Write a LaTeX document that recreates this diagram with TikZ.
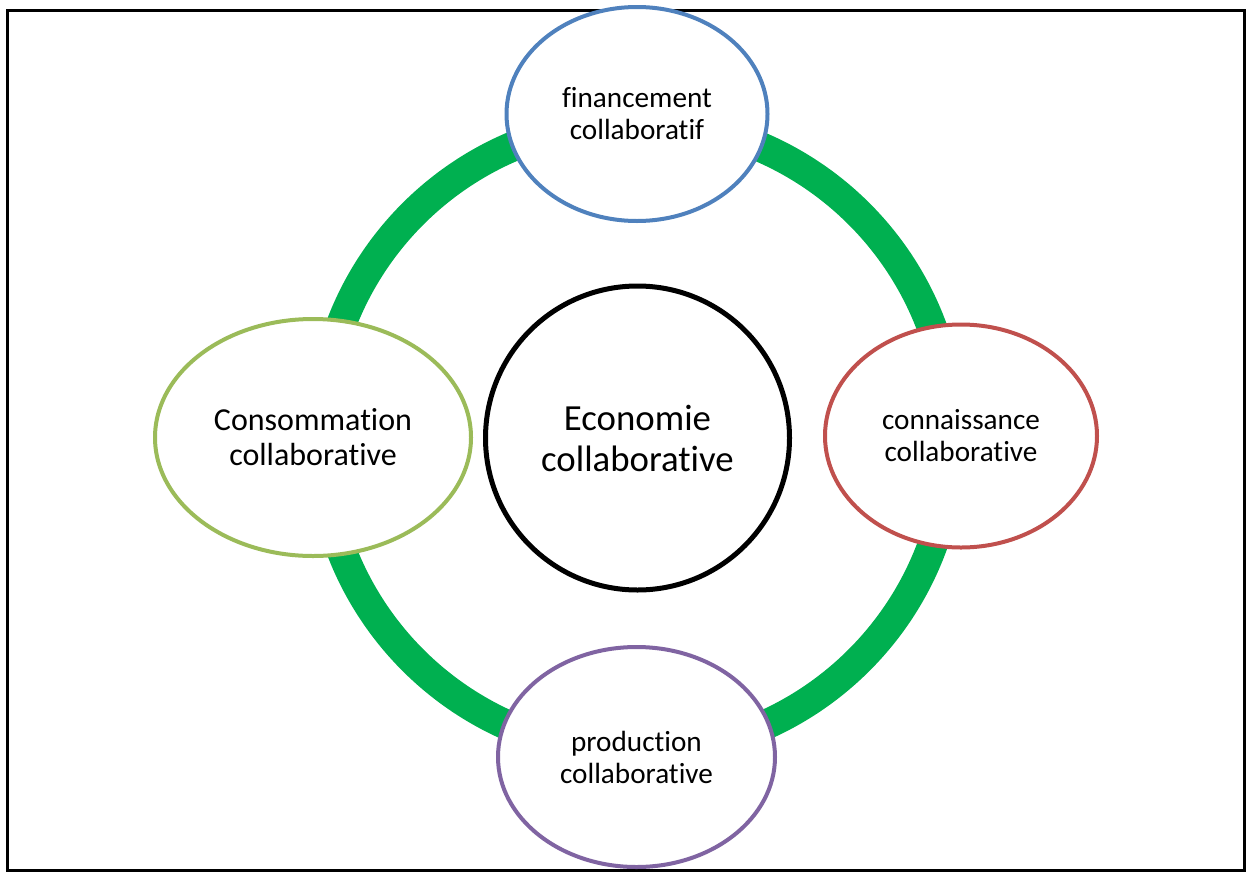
\documentclass[tikz,border=0pt]{standalone}
\usepackage{fontspec}
\setmainfont{Carlito}[Ligatures={NoCommon}]
\usetikzlibrary{shapes.geometric}
\definecolor{ringgreen}{HTML}{00B050}
\definecolor{finblue}{HTML}{4F81BD}
\definecolor{conred}{HTML}{C0504D}
\definecolor{consgreen}{HTML}{9BBB59}
\definecolor{prodpurple}{HTML}{8064A2}
\begin{document}
\begin{tikzpicture}[x=0.5pt,y=-0.5pt,
  bubble/.style={ellipse, draw, fill=white, line width=2pt, inner sep=0pt,
    align=center, text=black},
  smalltext/.style={font=\fontsize{14.6pt}{16pt}\selectfont},
  ring/.style={draw=ringgreen, line width=15pt}]
  \useasboundingbox (0,0) rectangle (1253,873);
  % outer frame
  \draw[line width=1.5pt] (7,10) rectangle (1244,870);
  % green ring linking the four domains
  \coordinate (hub) at (636,437);
  \draw[ring] (hub) circle[radius=315.5];
  % central concept
  \node[bubble, circle, line width=2.5pt, minimum size=152pt,
        font=\fontsize{18.4pt}{20.5pt}\selectfont] (eco) at (637.5,438)
        {Economie\\collaborative};
  % the four domains
  \node[bubble, draw=finblue, minimum width=130.5pt, minimum height=107pt, smalltext]
        (fin) at (637,114) {financement\\collaboratif};
  \node[bubble, draw=consgreen, minimum width=158pt, minimum height=118.5pt,
        font=\fontsize{16pt}{17.6pt}\selectfont]
        (cons) at (313,437.5) {Consommation\\collaborative};
  \node[bubble, draw=conred, minimum width=136pt, minimum height=111.5pt, smalltext]
        (conn) at (961,436) {connaissance\\collaborative};
  \node[bubble, draw=prodpurple, minimum width=138.5pt, minimum height=110pt, smalltext]
        (prod) at (636.5,757) {production\\collaborative};
\end{tikzpicture}
\end{document}
